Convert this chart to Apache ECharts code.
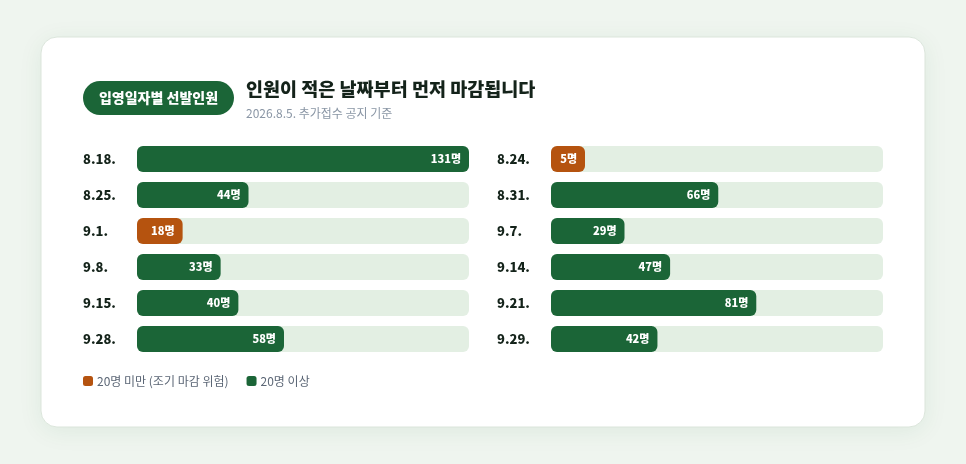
<!DOCTYPE html>
<html><head><meta charset="utf-8">
<script src="https://cdn.jsdelivr.net/npm/echarts@6/dist/echarts.min.js"></script>
<style>
html,body{margin:0;padding:0;background:#eff5ef;}
#c{width:966px;height:464px;}
</style></head>
<body><div id="c"></div>
<script>
const leftDates = ['8.18.', '8.25.', '9.1.', '9.8.', '9.15.', '9.28.'];
const leftValues = [131, 44, 18, 33, 40, 58];
const rightDates = ['8.24.', '8.31.', '9.7.', '9.14.', '9.21.', '9.29.'];
const rightValues = [5, 66, 29, 47, 81, 42];
const threshold = 20;
const lowName = '20명 미만 (조기 마감 위험)';
const highName = '20명 이상';

const GREEN = '#1b6537';
const ORANGE = '#b5530f';
const TRACK = '#e3efe3';
const FONT = '"Noto Sans CJK KR", "Noto Sans", sans-serif';
const maxV = Math.max(...leftValues, ...rightValues);

function split(vals, low) {
  return vals.map(v => (low ? (v < threshold ? v : null) : (v >= threshold ? v : null)));
}
function barSeries(name, color, vals, idx, bg) {
  return {
    type: 'bar', name: name, xAxisIndex: idx, yAxisIndex: idx,
    data: vals, barWidth: 26, barGap: '-100%', barMinHeight: 34,
    showBackground: bg,
    backgroundStyle: { color: TRACK, borderRadius: 6 },
    itemStyle: { color: color, borderRadius: 6 },
    label: { show: true, position: 'insideRight', distance: 8, formatter: '{c}명',
      color: '#ffffff', fontWeight: 900, fontSize: 11, fontFamily: FONT },
    emphasis: { disabled: true }
  };
}
function yAxis(idx, cats) {
  return { type: 'category', gridIndex: idx, data: cats, inverse: true,
    axisLine: { show: false }, axisTick: { show: false },
    axisLabel: { align: 'left', margin: 54, color: '#14231a', fontWeight: 900, fontSize: 13, fontFamily: FONT } };
}
function xAxis(idx) {
  return { type: 'value', gridIndex: idx, min: 0, max: maxV, show: false };
}

const chart = echarts.init(document.getElementById('c'));
chart.setOption({
  animation: false,
  textStyle: { fontFamily: FONT },
  graphic: [
    { type: 'rect', z: -10, shape: { x: 41, y: 37, width: 884, height: 390, r: 16 },
      style: { fill: '#ffffff', stroke: '#dbe5db', lineWidth: 1,
        shadowBlur: 24, shadowColor: 'rgba(27,101,55,0.08)', shadowOffsetY: 4 } },
    { type: 'rect', shape: { x: 83, y: 81, width: 151, height: 34, r: 17 },
      style: { fill: GREEN } },
    { type: 'text', x: 158.5, y: 98,
      style: { text: '입영일자별 선발인원', fill: '#ffffff', font: '900 14px ' + FONT, align: 'center', verticalAlign: 'middle' } }
  ],
  title: {
    left: 246, top: 80, padding: 0, itemGap: 9,
    text: '인원이 적은 날짜부터 먼저 마감됩니다',
    textStyle: { fontSize: 18.5, fontWeight: 900, color: '#14231a', fontFamily: FONT },
    subtext: '2026.8.5. 추가접수 공지 기준',
    subtextStyle: { fontSize: 12, color: '#8a96a5', fontFamily: FONT }
  },
  legend: {
    left: 83, top: 375, padding: 0, itemGap: 18, itemWidth: 10, itemHeight: 10,
    icon: 'roundRect', selectedMode: false,
    data: [{ name: lowName, itemStyle: { color: ORANGE } }, { name: highName, itemStyle: { color: GREEN } }],
    textStyle: { fontSize: 12, color: '#5b6675', fontFamily: FONT, padding: [0, 0, 0, -1] }
  },
  grid: [
    { left: 137, top: 141, width: 332, height: 216 },
    { left: 551, top: 141, width: 332, height: 216 }
  ],
  xAxis: [xAxis(0), xAxis(1)],
  yAxis: [yAxis(0, leftDates), yAxis(1, rightDates)],
  series: [
    barSeries(lowName, ORANGE, split(leftValues, true), 0, true),
    barSeries(highName, GREEN, split(leftValues, false), 0, false),
    barSeries(lowName, ORANGE, split(rightValues, true), 1, true),
    barSeries(highName, GREEN, split(rightValues, false), 1, false)
  ]
});
</script></body></html>
